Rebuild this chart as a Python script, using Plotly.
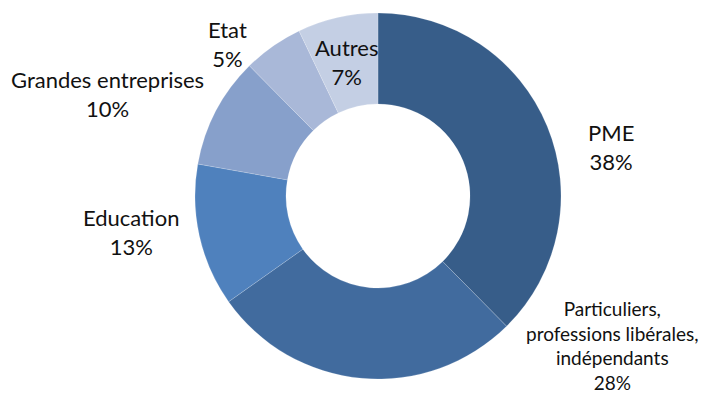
import plotly.graph_objects as go

categories = ["PME", "Particuliers,<br>professions libérales,<br>indépendants", "Education",
              "Grandes entreprises", "Etat", "Autres"]
shares = [37.6, 27.6, 12.6, 9.8, 5.3, 7.1]
pct_labels = ["38%", "28%", "13%", "10%", "5%", "7%"]
colors = ["#375D89", "#416B9E", "#4F81BD", "#87A0CB", "#A9B8D8", "#C4CFE4"]

# label anchor positions in paper coordinates (text placement only) and font sizes
label_pos = [(0.867, 0.634), (0.869, 0.092), (0.186, 0.402), (0.153, 0.780), (0.322, 0.914), (0.492, 0.866)]
label_size = [22, 19, 22, 22, 22, 22]

W, H = 705, 394
fig = go.Figure(go.Pie(
    labels=categories, values=shares, sort=False, direction="clockwise", rotation=0,
    hole=0.503, marker=dict(colors=colors, line=dict(color="rgba(255,255,255,0.35)", width=0.5)),
    textinfo="none", hoverinfo="label+percent", showlegend=False,
    domain=dict(x=[195 / W, 561 / W], y=[0, 1]),
))

for cat, pct, (x, y), s in zip(categories, pct_labels, label_pos, label_size):
    fig.add_annotation(x=x, y=y, xref="paper", yref="paper", showarrow=False,
                       xanchor="center", yanchor="middle", borderpad=0,
                       text=f"{cat}<br>{pct}", align="center",
                       font=dict(family="Lato, sans-serif", size=s, color="#111111"))

fig.update_layout(width=W, height=H, margin=dict(l=0, r=0, t=13, b=15),
                  paper_bgcolor="white", plot_bgcolor="white")
fig.write_html("out.html")
